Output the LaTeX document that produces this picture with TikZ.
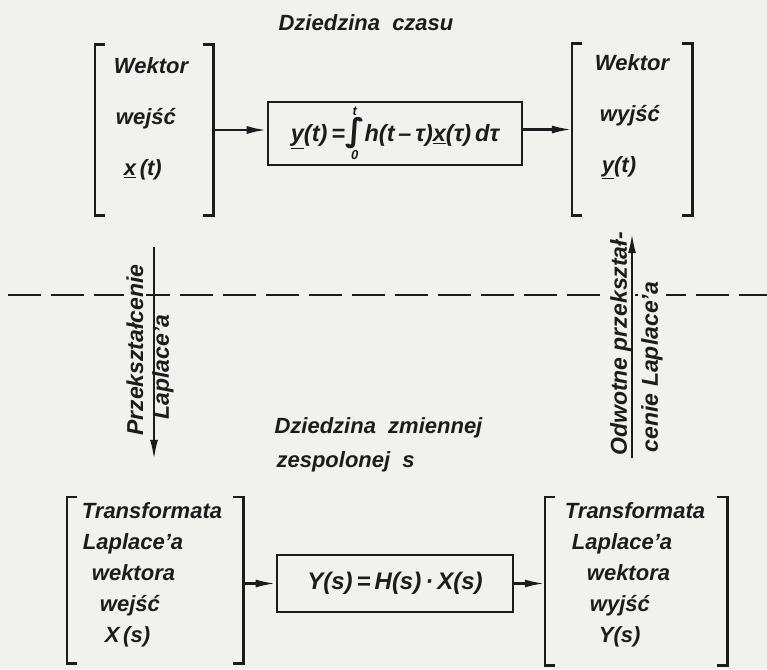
\documentclass[tikz,border=0pt]{standalone}
\usepackage{fontspec}
\setmainfont{Liberation Sans}
\newfontfamily\intfont{DejaVu Sans}
\usetikzlibrary{arrows.meta,positioning}
\definecolor{paper}{RGB}{241,241,238}
\definecolor{ink}{RGB}{28,28,28}
\newcommand{\limsz}[1]{\hbox{\fontsize{13}{13}\selectfont #1}}
\newcommand{\convint}{$\mathop{\hbox{\intfont\bfseries\fontsize{32}{32}\selectfont ∫}}\limits_{\limsz{0}}^{\limsz{t}}$}

\begin{document}
\begin{tikzpicture}[x=1pt,y=-1pt,
  every node/.style={text=ink,font=\bfseries\itshape\fontsize{22}{26}\selectfont},
  vecbox/.style={inner sep=0pt},
  vtxt/.style={align=left,font=\bfseries\itshape\fontsize{22}{51}\selectfont},
  ltxt/.style={align=left,font=\bfseries\itshape\fontsize{22}{31}\selectfont},
  brk/.style={draw=ink,line width=2.6pt},
  fbox/.style={draw=ink,line width=2.6pt,inner sep=0pt},
  arr/.style={draw=ink,line width=2.4pt,-{Latex[length=20pt,width=8pt]}},
  cutline/.style={draw=ink,line width=2.6pt,dash pattern=on 33pt off 10pt},
  vlbl/.style={rotate=90,fill=paper,inner sep=3pt,font=\bfseries\itshape\fontsize{23}{26}\selectfont}]
\fill[paper] (0,0) rectangle (767,669);
\useasboundingbox (0,0) rectangle (767,669);

% time domain
\node (ttlT) at (366,23) {Dziedzina\ \ czasu};
\node[vecbox,minimum width=118pt,minimum height=170pt] (vecXt) at (154,130) {};
\node[vecbox,minimum width=120pt,minimum height=171pt] (vecYt) at (632,129.5) {};
\node[vtxt] (txtXt) at (151,119) {Wektor\\\hspace*{2pt}wejść\\\hspace*{10pt}\underline{x}\,(t)};
\node[vtxt] (txtYt) at (632,117) {Wektor\\\hspace*{5pt}wyjść\\\hspace*{7pt}\underline{y}(t)};
\node[fbox,minimum width=254pt,minimum height=63pt,font=\bfseries\itshape\fontsize{23.5}{26}\selectfont] (convT) at (395,133.5)
  {\underline{y}(t)\,=\convint h(t\,–\,τ)\underline{x}(τ)\,dτ};

% s domain
\node[ltxt,anchor=west,font=\bfseries\itshape\fontsize{22}{34}\selectfont] (ttlS) at (271,445)
  {Dziedzina\ \ zmiennej\\\hspace*{2pt}zespolonej\ \ s};
\node[vecbox,minimum width=176pt,minimum height=166pt] (vecXs) at (155,580) {};
\node[vecbox,minimum width=182pt,minimum height=168pt] (vecYs) at (636,581) {};
\node[ltxt] (txtXs) at (152,575) {Transformata\\\hspace*{1pt}Laplace'a\\\hspace*{10pt}wektora\\\hspace*{18pt}wejść\\\hspace*{23pt}X\,(s)};
\node[ltxt] (txtYs) at (635,575) {Transformata\\\hspace*{7pt}Laplace'a\\\hspace*{22pt}wektora\\\hspace*{25pt}wyjść\\\hspace*{34pt}Y(s)};
\node[fbox,minimum width=236pt,minimum height=57pt,font=\bfseries\itshape\fontsize{24}{26}\selectfont] (convS) at (395,583.5)
  {Y(s)\,=\,H(s)\,·\,X(s)};

% brackets
\foreach \v in {vecXt,vecYt,vecXs,vecYs}{
  \draw[brk] ([xshift=10pt]\v.north west) -- (\v.north west) -- (\v.south west) -- ([xshift=10pt]\v.south west);
  \draw[brk] ([xshift=-10pt]\v.north east) -- (\v.north east) -- (\v.south east) -- ([xshift=-10pt]\v.south east);
}

% dividing line and transforms
\coordinate (cutL) at (8,295);
\coordinate (cutR) at (767,295);
\draw[cutline] (cutL) -- (cutR);
\node[vlbl] (lblLa) at (135,350) {Przekształcenie};
\node[vlbl] (lblLb) at (163,367) {Laplace'a};
\node[vlbl] (lblIa) at (621,344) {Odwotne przekształ-};
\node[vlbl] (lblIb) at (652,367) {cenie Laplace'a};

\draw[arr] (vecXt.east) -- (vecXt.east -| convT.west);
\draw[arr] (convT.east |- vecYt.west) -- (vecYt.west);
\draw[arr] (convS.west -| vecXs.east) -- (convS.west);
\draw[arr] (convS.east) -- (convS.east -| vecYs.west);
\draw[arr,shorten <=32pt,shorten >=37pt] (vecXt.south) -- (vecXt.south |- vecXs.north);
\draw[arr,shorten <=39pt,shorten >=18pt] (vecYs.north -| vecYt.south) -- (vecYt.south);
\end{tikzpicture}
\end{document}
